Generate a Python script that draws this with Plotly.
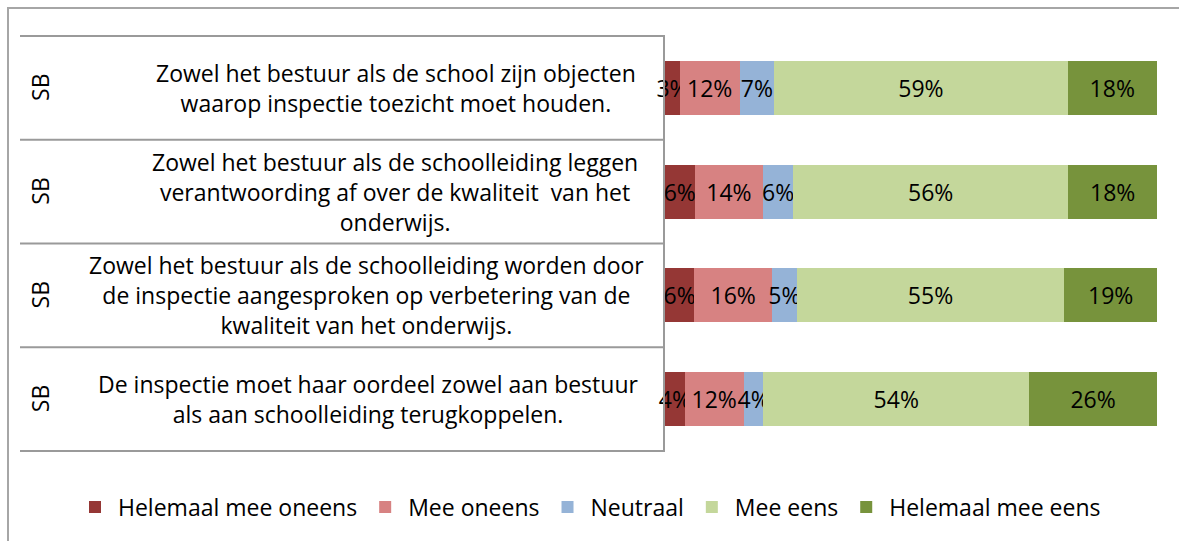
import plotly.graph_objects as go

# ---- data ----
categories = [
    "Zowel het bestuur als de school zijn objecten<br>waarop inspectie toezicht moet houden.",
    "Zowel het bestuur als de schoolleiding leggen<br>verantwoording af over de kwaliteit  van het<br>onderwijs.",
    "Zowel het bestuur als de schoolleiding worden door<br>de inspectie aangesproken op verbetering van de<br>kwaliteit van het onderwijs.",
    "De inspectie moet haar oordeel zowel aan bestuur<br>als aan schoolleiding terugkoppelen.",
]
group_label = "SB"
series_names = ["Helemaal mee oneens", "Mee oneens", "Neutraal", "Mee eens", "Helemaal mee eens"]
helemaal_oneens = [3, 6, 6, 4]
oneens = [12, 14, 16, 12]
neutraal = [7, 6, 5, 4]
eens = [59, 56, 55, 54]
helemaal_eens = [18, 18, 19, 26]
series_values = [helemaal_oneens, oneens, neutraal, eens, helemaal_eens]
colors = ["#953735", "#D78282", "#95B3D7", "#C4D79B", "#77933C"]

# ---- layout geometry (pixels) ----
W, H = 1179, 541
PL, PR, PT, PB = 665, 1157, 36, 451
pw, ph = PR - PL, PB - PT

def px_x(px):
    return (px - PL) / pw

def px_y(py):
    return (PB - py) / ph

FONT = "Open Sans"
FS = 23

fig = go.Figure()
for name, vals, col in zip(series_names, series_values, colors):
    fig.add_trace(go.Bar(
        y=categories, x=vals, name=name, orientation="h",
        marker=dict(color=col, line=dict(width=0)),
        text=[f"{v}%" for v in vals],
        textposition="inside", insidetextanchor="middle",
        constraintext="none", textangle=0, cliponaxis=False,
        textfont=dict(family=FONT, size=FS, color="black"),
        hoverinfo="skip",
    ))

shapes = []
n = len(categories)
# category separators (extended tick marks of the label table)
for i in range(n + 1):
    yp = 1 - i / n
    shapes.append(dict(type="line", xref="paper", yref="paper",
                       x0=px_x(20), x1=0, y0=yp, y1=yp,
                       line=dict(color="#9a9a9a", width=2)))
# outer chart border
shapes.append(dict(type="rect", xref="paper", yref="paper",
                   x0=px_x(8), x1=px_x(1195), y0=px_y(8), y1=px_y(560),
                   line=dict(color="#a6a6a6", width=2)))

annotations = []
label_centers = [396, 395, 366, 368]
for cat, cx in zip(categories, label_centers):
    annotations.append(dict(x=px_x(cx), xref="paper", y=cat, yref="y",
                            text=cat, showarrow=False, align="center",
                            xanchor="center", yanchor="middle",
                            font=dict(family=FONT, size=FS, color="black")))
    annotations.append(dict(x=px_x(40), xref="paper", y=cat, yref="y",
                            text=group_label, showarrow=False, textangle=-90,
                            xanchor="center", yanchor="middle",
                            font=dict(family=FONT, size=FS, color="black")))

fig.update_layout(
    width=W, height=H,
    barmode="stack", barnorm="percent", bargap=0.48,
    paper_bgcolor="white", plot_bgcolor="white",
    margin=dict(l=PL, r=W - PR, t=PT, b=H - PB, autoexpand=False),
    xaxis=dict(range=[0, 100.001], visible=False, fixedrange=True),
    yaxis=dict(autorange=False, range=[n - 0.5, -0.5], showticklabels=False,
               ticks="", showgrid=False, zeroline=False, fixedrange=True,
               showline=True, linecolor="#9a9a9a", linewidth=2),
    showlegend=True,
    legend=dict(orientation="h", traceorder="normal", itemwidth=36,
                x=px_x(72), xanchor="left", y=px_y(507), yanchor="middle",
                font=dict(family=FONT, size=FS, color="black"),
                bgcolor="rgba(0,0,0,0)"),
    shapes=shapes, annotations=annotations,
    font=dict(family=FONT, size=FS, color="black"),
)

fig.write_html(
    "out.html",
    config={"displayModeBar": False},
    post_script="document.body.style.margin='0';document.body.style.overflow='hidden';",
)
